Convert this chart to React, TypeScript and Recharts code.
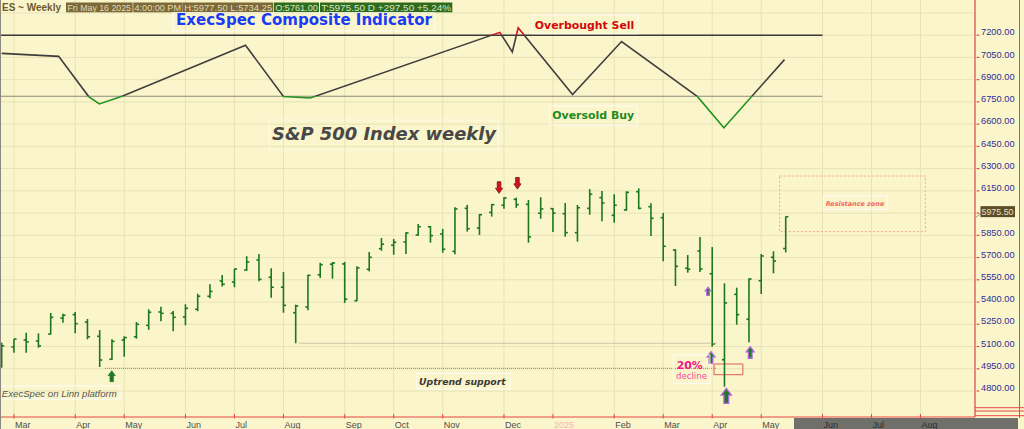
import React from "react";
import {
  ComposedChart,
  Bar,
  Line,
  Scatter,
  XAxis,
  YAxis,
  CartesianGrid,
  ReferenceLine,
  ReferenceArea,
} from "recharts";

// weekly ES bars (Friday dates), index = position on the x axis
const weeks = [
  "2024-02-23", "2024-03-01", "2024-03-08", "2024-03-15", "2024-03-22", "2024-03-28", "2024-04-05",
  "2024-04-12", "2024-04-19", "2024-04-26", "2024-05-03", "2024-05-10", "2024-05-17", "2024-05-24",
  "2024-05-31", "2024-06-07", "2024-06-14", "2024-06-21", "2024-06-28", "2024-07-05", "2024-07-12",
  "2024-07-19", "2024-07-26", "2024-08-02", "2024-08-09", "2024-08-16", "2024-08-23", "2024-08-30",
  "2024-09-06", "2024-09-13", "2024-09-20", "2024-09-27", "2024-10-04", "2024-10-11", "2024-10-18",
  "2024-10-25", "2024-11-01", "2024-11-08", "2024-11-15", "2024-11-22", "2024-11-29", "2024-12-06",
  "2024-12-13", "2024-12-20", "2024-12-27", "2025-01-03", "2025-01-10", "2025-01-17", "2025-01-24",
  "2025-01-31", "2025-02-07", "2025-02-14", "2025-02-21", "2025-02-28", "2025-03-07", "2025-03-14",
  "2025-03-21", "2025-03-28", "2025-04-04", "2025-04-11", "2025-04-17", "2025-04-25", "2025-05-02",
  "2025-05-09", "2025-05-16",
];

const opens = [
  5021, 5097, 5144, 5137, 5184, 5292, 5315, 5265, 5169, 5014, 5144, 5166, 5243, 5333, 5324, 5299,
  5351, 5439, 5542, 5535, 5616, 5684, 5567, 5500, 5328, 5367, 5584, 5655, 5657, 5409, 5621, 5760,
  5783, 5805, 5852, 5908, 5859, 5742, 6032, 5899, 6005, 6053, 6093, 6059, 5999, 6030, 5996, 5868,
  6032, 6104, 5985, 6021, 6144, 6043, 5969, 5751, 5628, 5744, 5591, 5011, 5452, 5284, 5544, 5702,
  5761,
];
const highs = [
  5126, 5151, 5193, 5189, 5326, 5321, 5333, 5286, 5211, 5149, 5169, 5265, 5351, 5369, 5340, 5385,
  5456, 5520, 5582, 5625, 5709, 5724, 5628, 5603, 5382, 5584, 5665, 5670, 5670, 5641, 5738, 5832,
  5825, 5870, 5926, 5913, 5893, 6039, 6055, 5994, 6061, 6107, 6104, 6088, 6107, 6034, 6068, 6055,
  6162, 6149, 6127, 6147, 6167, 6066, 6001, 5756, 5717, 5839, 5771, 5526, 5497, 5560, 5724, 5742,
  5977.5,
];
const lows = [
  4957, 5058, 5058, 5092, 5182, 5261, 5189, 5149, 4962, 5009, 5031, 5153, 5213, 5270, 5203, 5243,
  5338, 5425, 5504, 5500, 5611, 5540, 5429, 5328, 5122, 5344, 5562, 5557, 5394, 5405, 5607, 5746,
  5719, 5724, 5848, 5800, 5733, 5722, 5875, 5852, 5976, 6030, 6036, 5800, 5962, 5872, 5841, 5807,
  5989, 5945, 5935, 6016, 6026, 5846, 5675, 5508, 5598, 5603, 5099, 4829, 5247, 5129, 5454, 5594,
  5734.25,
];
const closes = [
  5104, 5151, 5131, 5104, 5297, 5311, 5254, 5166, 5009, 5135, 5160, 5250, 5331, 5324, 5297, 5358,
  5439, 5472, 5520, 5623, 5670, 5553, 5500, 5378, 5373, 5580, 5652, 5663, 5419, 5630, 5702, 5790,
  5803, 5866, 5908, 5848, 5756, 6028, 5895, 5989, 6057, 6102, 6057, 5839, 6028, 5999, 5868, 6036,
  6127, 6068, 6053, 6140, 6032, 5965, 5776, 5641, 5621, 5623, 5117, 5394, 5315, 5555, 5711, 5677,
  5975.5,
];

// ExecSpec composite indicator, drawn on the price scale (turning points)
const indicatorWeek = [0, 4.65, 7.1, 7.97, 9.88, 19.9, 23.0, 25.2, 40.66, 41.68, 42.16, 46.6, 50.6, 56.8, 58.95, 63.9];
const indicatorValue = [7077, 7057, 6786, 6736, 6790, 7132, 6786, 6776, 7219, 7087, 7250, 6800, 7157, 6785, 6576, 7035];
const OVERBOUGHT = 7200;
const OVERSOLD = 6788;

// signal arrows
const buyArrowWeek = [8.98, 57.66, 57.9, 59.15, 61.1];
const buyArrowPrice = [4937, 5499, 5065, 4818, 5099];
const buyArrowSize = [11, 8, 11.6, 15, 11.6];
const buyArrowOutline = [false, true, true, true, true];
const sellArrowWeek = [40.6, 42.1];
const sellArrowPrice = [6133, 6162];

// support levels and zones
const supportLow = { from: 8.43, to: 58.3, price: 4953 };
const supportAug = { from: 24.3, to: 58.4, price: 5122 };
const declineBox = { x1: 58.15, x2: 60.5, y1: 4910, y2: 4982 };
const resistanceBox = { x1: 63.5, x2: 75.4, y1: 5875, y2: 6250 };

const monthTickWeeks = [1, 6, 10, 15, 19, 23, 28, 32, 36, 41, 45, 50, 54, 58, 62, 67, 71, 75];
const monthTickLabels = ["Mar", "Apr", "May", "Jun", "Jul", "Aug", "Sep", "Oct", "Nov", "Dec", "2025", "Feb", "Mar", "Apr", "May", "Jun", "Jul", "Aug"];
const priceTicks = [4800, 4950, 5100, 5250, 5400, 5550, 5700, 5850, 6000, 6150, 6300, 6450, 6600, 6750, 6900, 7050, 7200];
const gridPrices = [...priceTicks, 7350];

const X_MIN = -0.139;
const X_MAX = 79.45;
const Y_MIN = 4624.6;
const Y_MAX = 7437.3;
const PLOT_H = 417;
const LAST_WEEK = weeks.length - 1;
const LAST_PRICE = closes[LAST_WEEK];

const BG = "#faf5cb";
const GRID = "#e9e2b6";
const AXIS_RED = "#e84848";
const BAR_COLOR = "#1d781d";

const bars = weeks.map((d, i) => ({
  i,
  date: d,
  o: opens[i],
  h: highs[i],
  l: lows[i],
  c: closes[i],
  range: [lows[i], highs[i]],
}));
const indicator = indicatorWeek.map((i, k) => ({ i, v: indicatorValue[k] }));
const buyArrows = buyArrowWeek.map((i, k) => ({ i, v: buyArrowPrice[k], size: buyArrowSize[k], outline: buyArrowOutline[k] }));
const sellArrows = sellArrowWeek.map((i, k) => ({ i, v: sellArrowPrice[k] }));

const frac = (v: number) => (Y_MAX - v) / (Y_MAX - Y_MIN);

function OhlcBar(props: any) {
  const { x, y, width, height, payload } = props;
  if (x == null || y == null || height == null) return null;
  const top = Math.min(y, y + height);
  const h = Math.abs(height);
  const cx = x + width / 2;
  const span = payload.h - payload.l || 1;
  const yo = top + ((payload.h - payload.o) / span) * h;
  const yc = top + ((payload.h - payload.c) / span) * h;
  return (
    <g stroke={BAR_COLOR} strokeWidth={1.6}>
      <line x1={cx} x2={cx} y1={top} y2={top + h} />
      <line x1={cx - 2.6} x2={cx} y1={yo} y2={yo} />
      <line x1={cx} x2={cx + 2.6} y1={yc} y2={yc} />
    </g>
  );
}

function BuyArrow(props: any) {
  const { cx, cy, payload } = props;
  if (cx == null || cy == null) return null;
  const s = payload.size;
  const hw = s * 0.34;
  const sw = s * 0.16;
  const hh = s * 0.45;
  const d = `M${cx},${cy} L${cx + hw},${cy + hh} L${cx + sw},${cy + hh} L${cx + sw},${cy + s} L${cx - sw},${cy + s} L${cx - sw},${cy + hh} L${cx - hw},${cy + hh} Z`;
  return (
    <path
      d={d}
      fill="#1f7a22"
      stroke={payload.outline ? "#b368e0" : "#1f7a22"}
      strokeWidth={payload.outline ? 1.3 : 0.6}
    />
  );
}

function SellArrow(props: any) {
  const { cx, cy } = props;
  if (cx == null || cy == null) return null;
  const s = 11.6;
  const hw = 3.6;
  const sw = 1.8;
  const hh = 5.2;
  const d = `M${cx},${cy} L${cx + hw},${cy - hh} L${cx + sw},${cy - hh} L${cx + sw},${cy - s} L${cx - sw},${cy - s} L${cx - sw},${cy - hh} L${cx - hw},${cy - hh} Z`;
  return <path d={d} fill="#d0141c" stroke="#7a1010" strokeWidth={0.8} />;
}

function PriceTick(props: any) {
  const { x, y, payload } = props;
  const v = payload.value;
  if (v === LAST_PRICE) {
    return (
      <g>
        <line x1={x + 0.5} y1={y + 1} x2={x + 5.5} y2={y - 3} stroke="#9a9a8a" strokeWidth={1} />
        <rect x={x + 5.5} y={y - 10.6} width={34.5} height={11} fill="#5d4c29" />
        <text x={x + 6.5} y={y - 1.8} fontSize={9.4} fill="#ece3c2" fontFamily="Liberation Sans, Arial, sans-serif" textLength={32} lengthAdjust="spacingAndGlyphs">
          {v.toFixed(2)}
        </text>
      </g>
    );
  }
  return (
    <g>
      <line x1={x + 1.6} x2={x + 4.3} y1={y} y2={y} stroke={AXIS_RED} strokeWidth={1.2} />
      <text x={x + 6} y={y + 0.2} fontSize={9.3} fill="#2f2f96" fontFamily="Liberation Sans, Arial, sans-serif">
        {v.toFixed(2)}
      </text>
    </g>
  );
}

function MonthTick(props: any) {
  const { x, y, payload, index } = props;
  const label = monthTickLabels[index] ?? "";
  const future = payload.value > LAST_WEEK;
  const fill = label === "2025" ? "#f2b5b5" : future ? "#2e2e2e" : "#4e4e4e";
  return (
    <g>
      <line x1={x} x2={x} y1={y - 3} y2={y + 1.5} stroke={AXIS_RED} strokeWidth={1} />
      <text x={x + 1} y={y + 11.4} fontSize={9} fill={fill} fontFamily="Liberation Sans, Arial, sans-serif">
        {label}
      </text>
    </g>
  );
}

function Overlay() {
  const small = "Liberation Sans, Arial, sans-serif";
  const verd = "DejaVu Sans, Verdana, sans-serif";
  return (
    <svg width={1024} height={429} style={{ position: "absolute", left: 0, top: 0, pointerEvents: "none" }}>
      {/* header strip */}
      <text x={2} y={10.8} fontSize={10} fontWeight="bold" fill="#6d5b2b" fontFamily={small} textLength={59} lengthAdjust="spacingAndGlyphs">
        ES ~ Weekly
      </text>
      <rect x={66} y={2.5} width={66.6} height={9.8} fill="#7b693a" />
      <text x={67.5} y={10.8} fontSize={9.6} fill="#e4dab2" fontFamily={small} textLength={63.5} lengthAdjust="spacingAndGlyphs">Fri May 16 2025</text>
      <rect x={133.3} y={2.5} width={49.4} height={9.8} fill="#7b693a" />
      <text x={134.5} y={10.8} fontSize={9.6} fill="#e4dab2" fontFamily={small} textLength={46.5} lengthAdjust="spacingAndGlyphs">4:00:00 PM</text>
      <rect x={183} y={2.5} width={90.3} height={9.8} fill="#7b693a" />
      <text x={184.2} y={10.8} fontSize={9.6} fill="#e4dab2" fontFamily={small} textLength={88} lengthAdjust="spacingAndGlyphs">H:5977.50  L:5734.25</text>
      <rect x={274} y={2.5} width={45} height={9.8} fill="#2f6b1d" />
      <text x={275.2} y={10.8} fontSize={9.6} fill="#d6e6c2" fontFamily={small} textLength={42.6} lengthAdjust="spacingAndGlyphs">O:5761.00</text>
      <rect x={320} y={2.5} width={132.3} height={9.8} fill="#2f6b1d" />
      <text x={321.2} y={10.8} fontSize={9.6} fill="#d6e6c2" fontFamily={small} textLength={130} lengthAdjust="spacingAndGlyphs">T:5975.50  D  +297.50  +5.24%</text>

      {/* indicator title */}
      <rect x={172.7} y={12.7} width={262.3} height={18.3} fill="none" stroke="#ffffff" strokeOpacity={0.8} />
      <text x={176} y={25.3} fontSize={15} fontWeight="bold" fill="#1b3cf4" fontFamily={verd} textLength={256} lengthAdjust="spacingAndGlyphs">
        ExecSpec Composite Indicator
      </text>
      <rect x={532} y={15} width={106} height={18.7} fill="none" stroke="#ffffff" strokeOpacity={0.8} />
      <text x={534.8} y={28.8} fontSize={11} fontWeight="bold" fill="#cf0a0a" fontFamily={verd} textLength={99.5} lengthAdjust="spacingAndGlyphs">
        Overbought Sell
      </text>
      <rect x={549.4} y={105.8} width={87.8} height={19.1} fill="none" stroke="#ffffff" strokeOpacity={0.8} />
      <text x={552.2} y={118.6} fontSize={11} fontWeight="bold" fill="#1f8a1f" fontFamily={verd} textLength={82} lengthAdjust="spacingAndGlyphs">
        Oversold Buy
      </text>

      {/* price panel title */}
      <rect x={269.3} y={120} width={229} height={30} fill="none" stroke="#ffffff" strokeOpacity={0.6} />
      <text x={272} y={140} fontSize={18} fontWeight="bold" fontStyle="italic" fill="#484848" fontFamily={verd} textLength={224} lengthAdjust="spacingAndGlyphs">
        S&amp;P 500 Index weekly
      </text>

      {/* notes */}
      <rect x={0} y={386} width={120} height={13.3} fill="none" stroke="#ffffff" strokeOpacity={0.8} />
      <text x={1.8} y={396.5} fontSize={9.6} fontStyle="italic" fill="#555555" fontFamily={small} textLength={115} lengthAdjust="spacingAndGlyphs">
        ExecSpec on Linn platform
      </text>
      <rect x={416.7} y={373.3} width={93.3} height={15.7} fill="none" stroke="#ffffff" strokeOpacity={0.8} />
      <text x={419} y={385.2} fontSize={9.5} fontWeight="bold" fontStyle="italic" fill="#3a3a3a" fontFamily={verd} textLength={86.7} lengthAdjust="spacingAndGlyphs">
        Uptrend support
      </text>
      <rect x={673.3} y={355} width={36.7} height={28.3} fill="none" stroke="#ffffff" strokeOpacity={0.8} />
      <text x={676.7} y={369} fontSize={11} fontWeight="bold" fill="#f0168c" fontFamily={verd} textLength={26} lengthAdjust="spacingAndGlyphs">
        20%
      </text>
      <text x={676} y={378.5} fontSize={9} fill="#f2479f" fontFamily={verd} textLength={31} lengthAdjust="spacingAndGlyphs">
        decline
      </text>
      <rect x={823.3} y={196} width={64.4} height={13.3} fill="none" stroke="#ffffff" strokeOpacity={0.8} />
      <text x={825.7} y={205.6} fontSize={6.6} fontWeight="bold" fontStyle="italic" fill="#f06868" fontFamily={verd} textLength={58.6} lengthAdjust="spacingAndGlyphs">
        Resistance zone
      </text>

      {/* frame pieces of the platform */}
      <line x1={0.5} x2={0.5} y1={0} y2={429} stroke="#8a8a80" strokeWidth={1} />
      <line x1={1019.5} x2={1019.5} y1={0} y2={418} stroke={AXIS_RED} strokeWidth={1} />
      <line x1={975} x2={1024} y1={407.7} y2={407.7} stroke={AXIS_RED} strokeWidth={1} />
      <line x1={975} x2={1024} y1={411} y2={411} stroke={AXIS_RED} strokeWidth={1} />
      <line x1={975} x2={1024} y1={415.7} y2={415.7} stroke={AXIS_RED} strokeWidth={1} />
    </svg>
  );
}

export default function App() {
  const gradStops = [
    { offset: 0, color: "#d0141c" },
    { offset: frac(OVERBOUGHT), color: "#d0141c" },
    { offset: frac(OVERBOUGHT), color: "#3e3e3e" },
    { offset: frac(OVERSOLD), color: "#3e3e3e" },
    { offset: frac(OVERSOLD), color: "#239323" },
    { offset: 1, color: "#239323" },
  ];
  return (
    <div style={{ position: "absolute", left: 0, top: 0, width: 1024, height: 429, background: BG, overflow: "hidden" }}>
      <div style={{ position: "absolute", left: 794, top: 418, width: 224, height: 11, background: "#6f6f6b" }} />
      <div style={{ position: "absolute", left: 0, top: 0 }}>
        <ComposedChart width={1024} height={429} data={bars} margin={{ top: 0, right: 0, bottom: 0, left: 0 }}>
          <defs>
            <linearGradient id="indGrad" gradientUnits="userSpaceOnUse" x1={0} y1={0} x2={0} y2={PLOT_H}>
              {gradStops.map((s, k) => (
                <stop key={k} offset={s.offset} stopColor={s.color} />
              ))}
            </linearGradient>
          </defs>
          <CartesianGrid stroke={GRID} strokeWidth={1} horizontalValues={gridPrices} />
          <XAxis
            dataKey="i"
            type="number"
            domain={[X_MIN, X_MAX]}
            allowDataOverflow
            ticks={monthTickWeeks}
            interval={0}
            height={12}
            tickSize={0}
            tickMargin={0}
            tickLine={false}
            axisLine={{ stroke: AXIS_RED, strokeWidth: 1.2 }}
            tick={<MonthTick />}
          />
          <YAxis
            orientation="right"
            type="number"
            domain={[Y_MIN, Y_MAX]}
            allowDataOverflow
            ticks={[...priceTicks, LAST_PRICE]}
            interval={0}
            width={49}
            tickSize={0}
            tickMargin={0}
            tickLine={false}
            axisLine={{ stroke: AXIS_RED, strokeWidth: 1.2 }}
            tick={<PriceTick />}
          />
          <ReferenceLine segment={[{ x: X_MIN, y: OVERBOUGHT }, { x: 67, y: OVERBOUGHT }]} stroke="#3a3a3a" strokeWidth={1.4} />
          <ReferenceLine segment={[{ x: X_MIN, y: OVERSOLD }, { x: 67, y: OVERSOLD }]} stroke="#8c8a7c" strokeWidth={1} />
          <ReferenceLine
            segment={[{ x: supportLow.from, y: supportLow.price }, { x: supportLow.to, y: supportLow.price }]}
            stroke="#9a9890"
            strokeWidth={1.2}
            strokeDasharray="1 1"
          />
          <ReferenceLine
            segment={[{ x: supportAug.from, y: supportAug.price }, { x: supportAug.to, y: supportAug.price }]}
            stroke="#9a9890"
            strokeWidth={1.2}
            strokeDasharray="1 1"
          />
          <ReferenceArea {...declineBox} fill="none" stroke="#e25a5a" strokeWidth={1} />
          <ReferenceArea {...resistanceBox} fill="none" stroke="#f5a48e" strokeWidth={1} strokeDasharray="2 2" />
          <Bar dataKey="range" barSize={5} shape={<OhlcBar />} isAnimationActive={false} />
          <Line
            data={indicator}
            dataKey="v"
            type="linear"
            stroke="url(#indGrad)"
            strokeWidth={1.6}
            dot={false}
            activeDot={false}
            isAnimationActive={false}
          />
          <Scatter data={buyArrows} dataKey="v" shape={<BuyArrow />} isAnimationActive={false} />
          <Scatter data={sellArrows} dataKey="v" shape={<SellArrow />} isAnimationActive={false} />
        </ComposedChart>
      </div>
      <Overlay />
    </div>
  );
}
